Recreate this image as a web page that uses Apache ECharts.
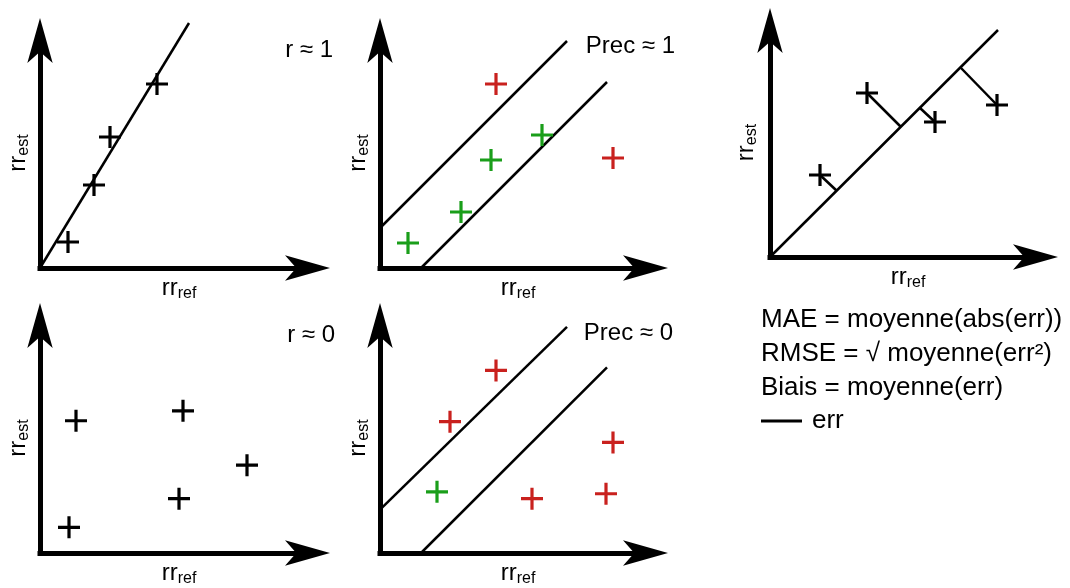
<!DOCTYPE html>
<html>
<head>
<meta charset="utf-8">
<script src="https://cdn.jsdelivr.net/npm/echarts@6/dist/echarts.min.js"></script>
<style>
html,body{margin:0;padding:0;background:#fff;}
#main{width:1070px;height:588px;}
</style>
</head>
<body>
<div id="main"></div>
<script>
// ---- Data (schematic values; units = axis units) ----
// Panel A : r ≈ 1
const corrHighPts = [[28,26],[54,83],[70,131],[117,184]];
const corrHighFit = [[0,0],[149,245]];
// Panel B : Prec ≈ 1
const precHighIn = [[28,25],[81,56],[111,108],[162,133]];
const precHighOut = [[116,184],[233,110]];
const precHighUpper = [[0,40],[187,227]];
const precHighLower = [[41,0],[227,186]];
// Panel C : r ≈ 0
const corrLowPts = [[36,134],[143,144],[207,89],[139,55],[29,26]];
// Panel D : Prec ≈ 0
const precLowIn = [[57,62]];
const precLowOut = [[116,185],[70,133],[152,55],[233,112],[226,60]];
const precLowUpper = [[0,44],[187,229]];
const precLowLower = [[41,0],[227,188]];
// Panel E : errors to identity line
const errPts = [[50,82],[97,164],[165,135],[227,152]];
const errFeet = [[67,66],[131,130],[150,149],[191,189]];
const identityLine = [[0,0],[228,227]];
// Axis extents per panel
const axisMaxX = [270, 268, 270, 268, 268];
const axisMaxY = [230, 230, 233, 233, 229];
// Texts
const panelLabels = ['r \u2248 1', 'Prec \u2248 1', 'r \u2248 0', 'Prec \u2248 0'];
const formulaLines = ['MAE = moyenne(abs(err))', 'RMSE = \u221A moyenne(err\u00B2)', 'Biais = moyenne(err)'];
const xName = '{a|rr}{b|ref}';
const yName = '{a|rr}{b|est}';

// ---- Styles ----
const FONT = '"Liberation Sans", Arial, Helvetica, sans-serif';
const RED = '#c9211e';
const GREEN = '#1a9e1a';
const PLUS = 'path://M-1.6,-11H1.6V-1.6H11V1.6H1.6V11H-1.6V1.6H-11V-1.6H-1.6Z';

const grids = [
  {left:40, top:38, width:270, height:230},
  {left:380, top:38, width:268, height:230},
  {left:40, top:323, width:270, height:233},
  {left:380, top:323, width:268, height:233},
  {left:770, top:28, width:268, height:229}
];

const rich = {
  a:{fontSize:24, fontFamily:FONT, color:'#000', lineHeight:28},
  b:{fontSize:16, fontFamily:FONT, color:'#000', lineHeight:16, verticalAlign:'bottom'}
};

function axisBase(max){
  return {
    type:'value', min:0, max:max,
    axisLine:{show:true, onZero:false, symbol:['none','arrow'], symbolSize:[19,45], symbolOffset:[0,20],
      lineStyle:{color:'#000', width:5, cap:'square'}},
    axisTick:{show:false}, axisLabel:{show:false}, splitLine:{show:false}
  };
}

const xAxes = grids.map((g,i)=>Object.assign(axisBase(axisMaxX[i]), {
  gridIndex:i, name:xName, nameLocation:'middle', nameGap:6,
  nameTextStyle:{rich:rich, padding:[0,0,0,8]}
}));
const yAxes = grids.map((g,i)=>Object.assign(axisBase(axisMaxY[i]), {
  gridIndex:i, name:yName, nameLocation:'middle', nameGap:(i===4?10:8),
  nameTextStyle:{rich:rich, padding:[0,0,0,0]}
}));

function lineS(idx, data, name){
  return {type:'line', name:name||undefined, xAxisIndex:idx, yAxisIndex:idx, data:data,
    symbol:'none', showSymbol:false, clip:false, silent:true,
    lineStyle:{color:'#000', width:2.5}, itemStyle:{color:'#000'}, z:2};
}
function plusS(idx, data, color){
  return {type:'scatter', xAxisIndex:idx, yAxisIndex:idx, data:data,
    symbol:PLUS, symbolSize:22, clip:false, silent:true,
    itemStyle:{color:color, opacity:1}, z:3};
}

const series = [
  lineS(0, corrHighFit), plusS(0, corrHighPts, '#000'),
  lineS(1, precHighUpper), lineS(1, precHighLower),
  plusS(1, precHighIn, GREEN), plusS(1, precHighOut, RED),
  plusS(2, corrLowPts, '#000'),
  lineS(3, precLowUpper), lineS(3, precLowLower),
  plusS(3, precLowIn, GREEN), plusS(3, precLowOut, RED),
  lineS(4, identityLine), plusS(4, errPts, '#000')
];
errPts.forEach((p,k)=>{ series.push(lineS(4, [p, errFeet[k]], 'err')); });

const labelPos = [[333,50],[675,46],[335,335],[673,333]];
const graphics = panelLabels.map((t,i)=>({
  type:'text', x:labelPos[i][0], y:labelPos[i][1], silent:true,
  style:{text:t, fontSize:24, fontFamily:FONT, fill:'#000', align:'right', verticalAlign:'middle'}
}));
const formulaY = [320, 354, 388];
formulaLines.forEach((t,i)=>{
  graphics.push({type:'text', x:761, y:formulaY[i], silent:true,
    style:{text:t, fontSize:26, fontFamily:FONT, fill:'#000', align:'left', verticalAlign:'middle'}});
});

const chart = echarts.init(document.getElementById('main'), null, {renderer:'canvas'});
chart.setOption({
  animation:false,
  backgroundColor:'#fff',
  grid:grids,
  xAxis:xAxes,
  yAxis:yAxes,
  legend:{data:['err'], left:761, top:408, padding:0, icon:'rect', itemWidth:41, itemHeight:3,
    selectedMode:false, itemStyle:{color:'#000'},
    textStyle:{fontSize:26, fontFamily:FONT, color:'#000', padding:[0,0,0,5]}},
  graphic:graphics,
  series:series
});
</script>
</body>
</html>
